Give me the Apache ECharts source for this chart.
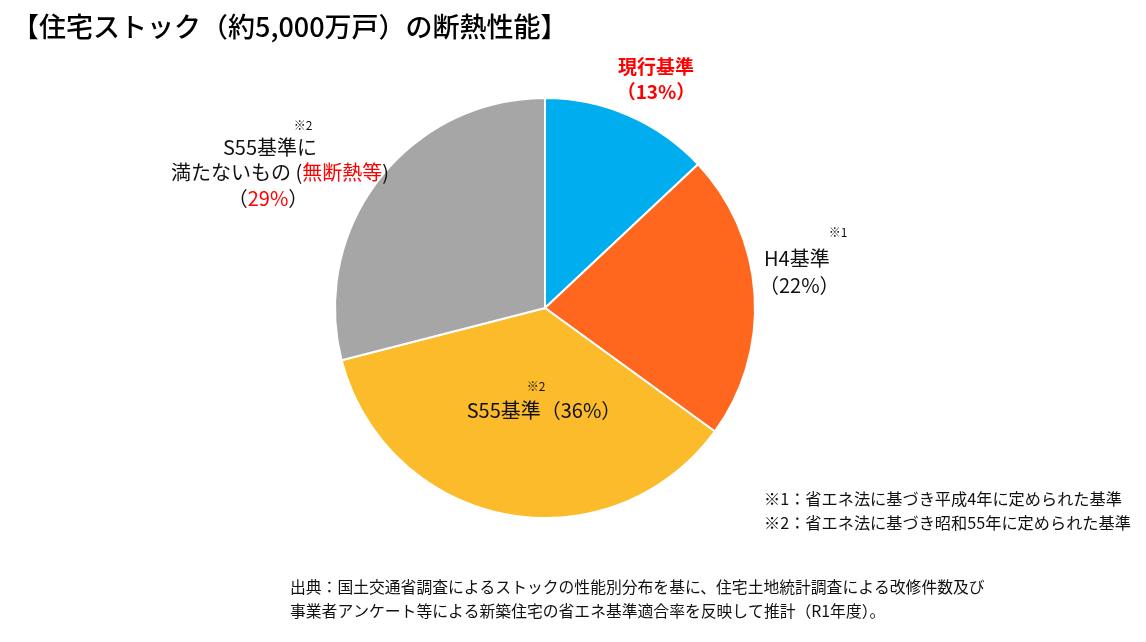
<!DOCTYPE html>
<html>
<head>
<meta charset="utf-8">
<script src="https://cdn.jsdelivr.net/npm/echarts@6/dist/echarts.min.js"></script>
<style>
  html, body { margin: 0; padding: 0; background: #fff; }
  #chart { width: 1146px; height: 642px; }
</style>
</head>
<body>
<div id="chart"></div>
<script>
// slices, clockwise from 12 o'clock
const categories = ['現行基準', 'H4基準', 'S55基準', 'S55基準に満たないもの'];
const shares = [13, 22, 36, 29];
const colors = ['#00aeef', '#ff671f', '#fbbb2b', '#a6a6a6'];

const titleText = '【住宅ストック（約5,000万戸）の断熱性能】';
const notes = [
  '※1：省エネ法に基づき平成4年に定められた基準',
  '※2：省エネ法に基づき昭和55年に定められた基準'
];
const sourceLines = [
  '出典：国土交通省調査によるストックの性能別分布を基に、住宅土地統計調査による改修件数及び',
  '事業者アンケート等による新築住宅の省エネ基準適合率を反映して推計（R1年度）。'
];

const FONT = '"Noto Sans CJK JP", "Noto Sans", sans-serif';
const pct = i => '（' + shares[i] + '%）';

const chart = echarts.init(document.getElementById('chart'));

const txt = (x, y, text, o = {}) => ({
  type: 'text', x, y, z: 100,
  style: Object.assign({
    text, fill: '#111', font: `20px ${FONT}`,
    textAlign: 'center', textVerticalAlign: 'middle'
  }, o)
});

chart.setOption({
  animation: false,
  backgroundColor: '#fff',
  series: [{
    type: 'pie',
    center: [545, 308],
    radius: 210,
    startAngle: 90,
    clockwise: true,
    label: { show: false },
    labelLine: { show: false },
    itemStyle: { borderColor: '#fff', borderWidth: 2 },
    data: categories.map((name, i) => ({
      name, value: shares[i], itemStyle: { color: colors[i] }
    }))
  }],
  graphic: [
    txt(12, 27, titleText, { textAlign: 'left', font: `500 27px ${FONT}`, fill: '#000' }),

    // 現行基準
    txt(656, 67, categories[0], { fill: '#ff0000', font: `bold 19px ${FONT}` }),
    txt(656, 92, pct(0), { fill: '#ff0000', font: `bold 19px ${FONT}` }),

    // H4基準
    txt(838, 232, '※1', { font: `12px ${FONT}` }),
    txt(764, 258, categories[1], { textAlign: 'left' }),
    txt(759, 285, pct(1), { textAlign: 'left' }),

    // S55基準
    txt(536, 386, '※2', { font: `12px ${FONT}` }),
    txt(544, 410, categories[2] + '（' + shares[2] + '%）'),

    // S55基準に満たないもの
    txt(303, 125, '※2', { font: `12px ${FONT}` }),
    txt(270, 147, 'S55基準に'),
    {
      type: 'text', x: 280, y: 172, z: 100,
      style: {
        text: '{k|満たないもの (}{r|無断熱等}{k|)}',
        textAlign: 'center', textVerticalAlign: 'middle',
        rich: {
          k: { fill: '#111', font: `20px ${FONT}` },
          r: { fill: '#ff0000', font: `20px ${FONT}` }
        }
      }
    },
    {
      type: 'text', x: 268, y: 198, z: 100,
      style: {
        text: '{k|（}{r|' + shares[3] + '%}{k|）}',
        textAlign: 'center', textVerticalAlign: 'middle',
        rich: {
          k: { fill: '#111', font: `20px ${FONT}` },
          r: { fill: '#ff0000', font: `20px ${FONT}` }
        }
      }
    },

    // footnotes
    txt(764, 499, notes[0], { textAlign: 'left', font: `16.2px ${FONT}` }),
    txt(764, 523, notes[1], { textAlign: 'left', font: `16.2px ${FONT}` }),

    // source
    txt(290, 587, sourceLines[0], { textAlign: 'left', font: `15.8px ${FONT}` }),
    txt(290, 611, sourceLines[1], { textAlign: 'left', font: `15.8px ${FONT}` })
  ]
});
</script>
</body>
</html>
